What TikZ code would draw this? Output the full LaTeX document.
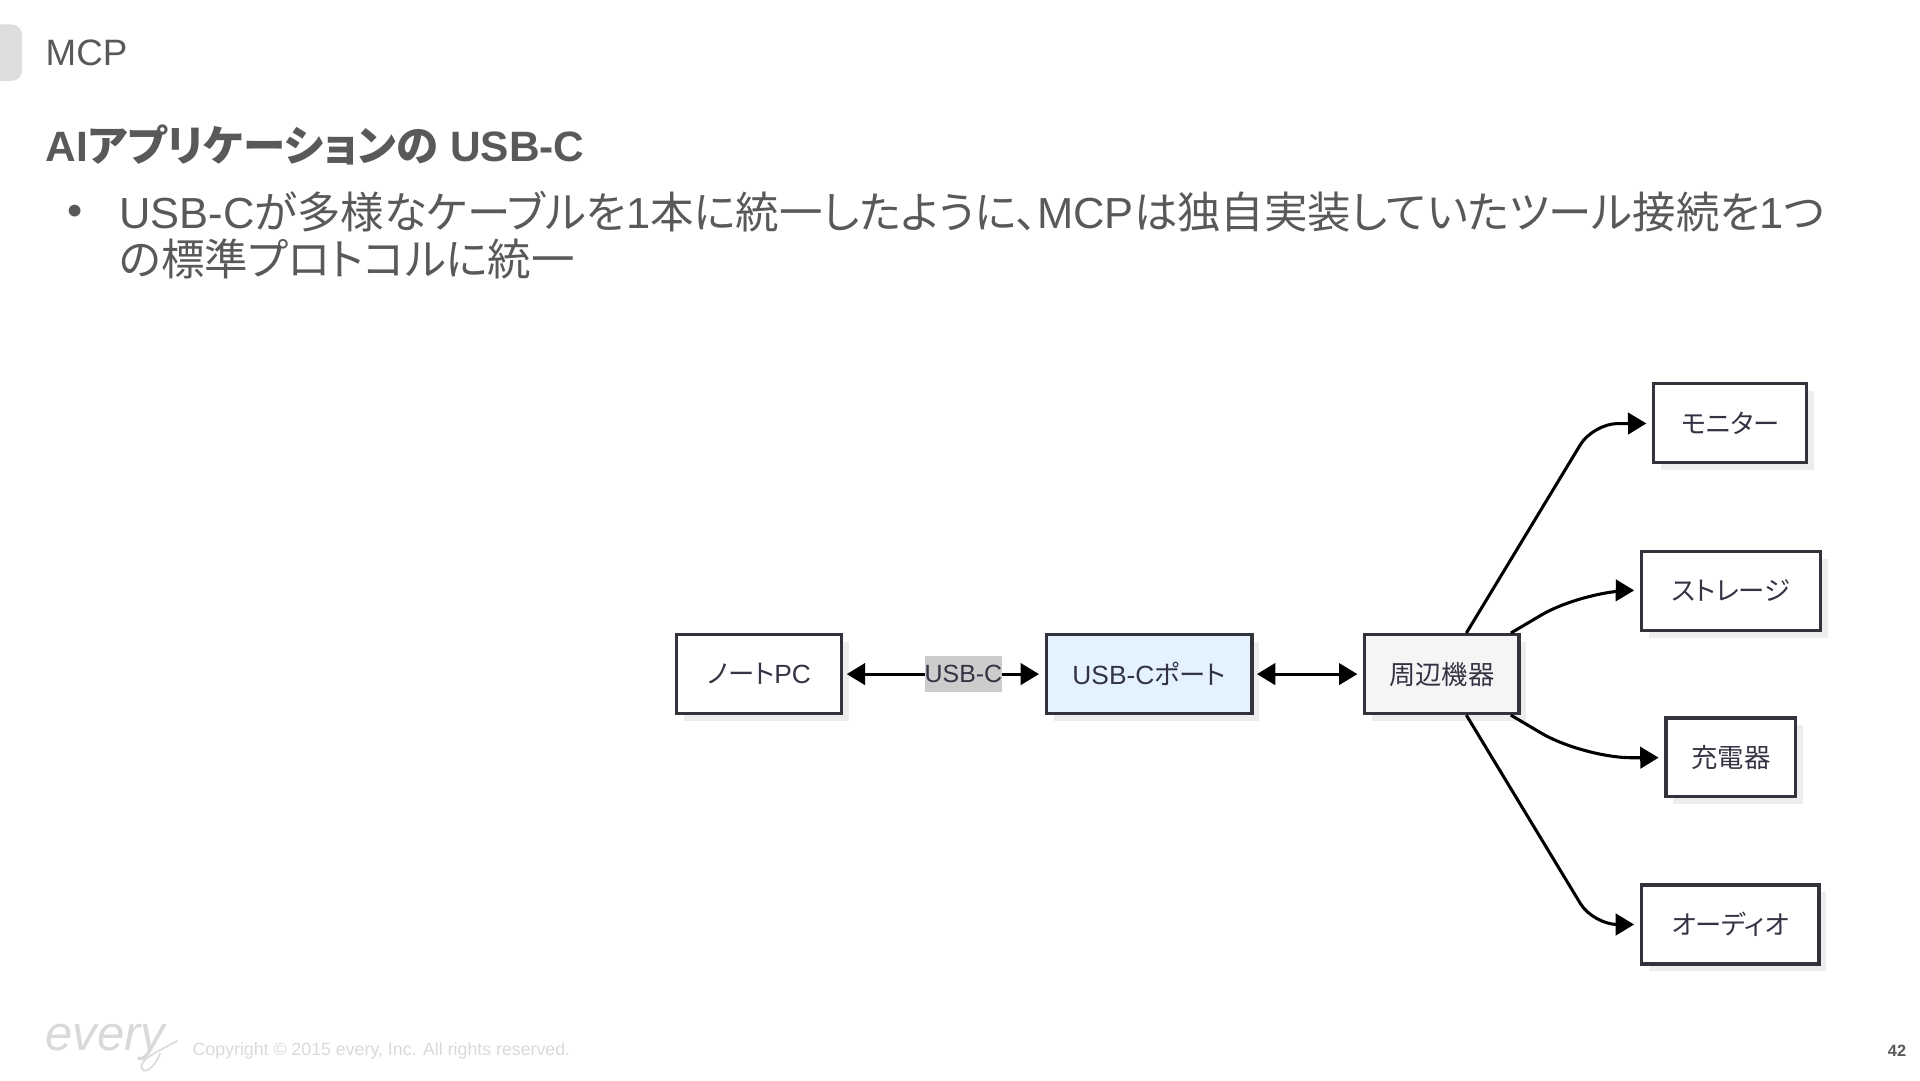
\documentclass[tikz,border=0pt]{standalone}
\usepackage{xcolor}
\usepackage{fontspec}
\setmainfont{Liberation Sans}
\newfontfamily\cjk[RawFeature=+palt]{Noto Sans CJK JP}
\usepackage{tikz}
\usetikzlibrary{arrows.meta, positioning, shadows, calc}
\definecolor{myink}{RGB}{89,89,89}
\definecolor{mydark}{RGB}{51,51,68}
\definecolor{myedge}{RGB}{51,51,60}
\definecolor{myblue}{RGB}{227,242,253}
\definecolor{mygrey}{RGB}{245,245,245}
\definecolor{mylabel}{RGB}{204,204,204}
\definecolor{mytab}{RGB}{221,221,221}
\definecolor{myfoot}{RGB}{217,217,217}
\newcommand{\jp}[1]{{\cjk #1}}
\tikzset{
  box/.style={draw=myedge, line width=1.6pt, fill=white, text=mydark, minimum height=38.6pt, inner sep=0pt, font=\fontsize{12.9}{15}\selectfont,
    drop shadow={shadow xshift=3.6pt, shadow yshift=-3.6pt, fill=black, opacity=0.07}},
  conn/.style={line width=1.5pt, -{Triangle[length=9pt, width=10.5pt]}, shorten >=2.8pt},
  bothconn/.style={conn, {Triangle[length=9pt, width=10.5pt]}-{Triangle[length=9pt, width=10.5pt]}, shorten <=1.6pt},
  slide/.style={anchor=west, inner sep=0pt, text=myink},
}
\begin{document}
\begin{tikzpicture}[x=0.6pt, y=-0.6pt]
\useasboundingbox (0,0) rectangle (1568,882);
\fill[mytab] (0,20) [rounded corners=5pt] -- (18,20) -- (18,66) [sharp corners] -- (0,66) -- cycle;
\node[slide, font=\fontsize{18}{22}\selectfont] (section) at (37,43) {MCP};
\node[slide, font=\fontsize{20.8}{26}\selectfont\bfseries] (title) at (37,118) {AI\jp{アプリケーションの} USB-C};
\node[slide, font=\fontsize{21.3}{26}\selectfont] (bullet) at (55,176) {•};
\node[slide, font=\fontsize{21.3}{22.8}\selectfont, align=left, anchor=north west] (body) at (97,156) {USB-C\jp{が多様なケーブルを}1\jp{本に統一したように、}MCP\jp{は独自実装していたツール接続を}1\jp{つ}\\\jp{の標準プロトコルに統一}};

\node[box, minimum width=81pt] (pc) at (620,550.5) {\jp{ノート}PC};
\node[box, minimum width=100.8pt, fill=myblue] (port) at (938.5,550.5) {USB-C\jp{ポート}};
\node[box, minimum width=75.6pt, fill=mygrey] (periph) at (1177.5,550.5) {\jp{周辺機器}};
\node[box, minimum width=75pt] (monitor) at (1413,345.5) {\jp{モニター}};
\node[box, minimum width=87.6pt] (storage) at (1413.5,482.5) {\jp{ストレージ}};
\node[box, minimum width=63.6pt] (charger) at (1413.5,618.5) {\jp{充電器}};
\node[box, minimum width=87pt] (audio) at (1413,755) {\jp{オーディオ}};

\draw[bothconn] (pc) -- (port) node[pos=0.596, fill=mylabel, text=mydark, inner sep=0pt, minimum width=37pt, minimum height=18pt, font=\fontsize{12.2}{15}\selectfont] (cable) {USB-C};
\draw[bothconn] (port) -- (periph);
\draw[conn, rounded corners=12pt] ($(periph.north)+(20,0)$) -- (1301,346) -- (monitor);
\draw[conn, rounded corners=24pt] ($(periph.north east)+(-8,0)$) -- (1293,482) -- (storage);
\draw[conn, rounded corners=24pt] ($(periph.south east)+(-8,0)$) -- (1293,619) -- (charger);
\draw[conn, rounded corners=12pt] ($(periph.south)+(20,0)$) -- (1301,755) -- (audio);

\node[anchor=west, inner sep=0pt, text=myfoot, font=\fontsize{24}{24}\selectfont\itshape\rmfamily] (logo) at (37,851) {every};
\draw[myfoot, line width=0.8pt] (145,850) .. controls (130,858) and (112,866) .. (116,873) .. controls (120,878) and (128,868) .. (131,860);
\node[slide, text=myfoot, font=\fontsize{8.7}{11}\selectfont] (copyright) at (157,858) {Copyright © 2015 every, Inc. All rights reserved.};
\node[anchor=east, inner sep=0pt, text=myink, font=\fontsize{8}{10}\selectfont\bfseries] (page) at (1557,858) {42};
\end{tikzpicture}
\end{document}
